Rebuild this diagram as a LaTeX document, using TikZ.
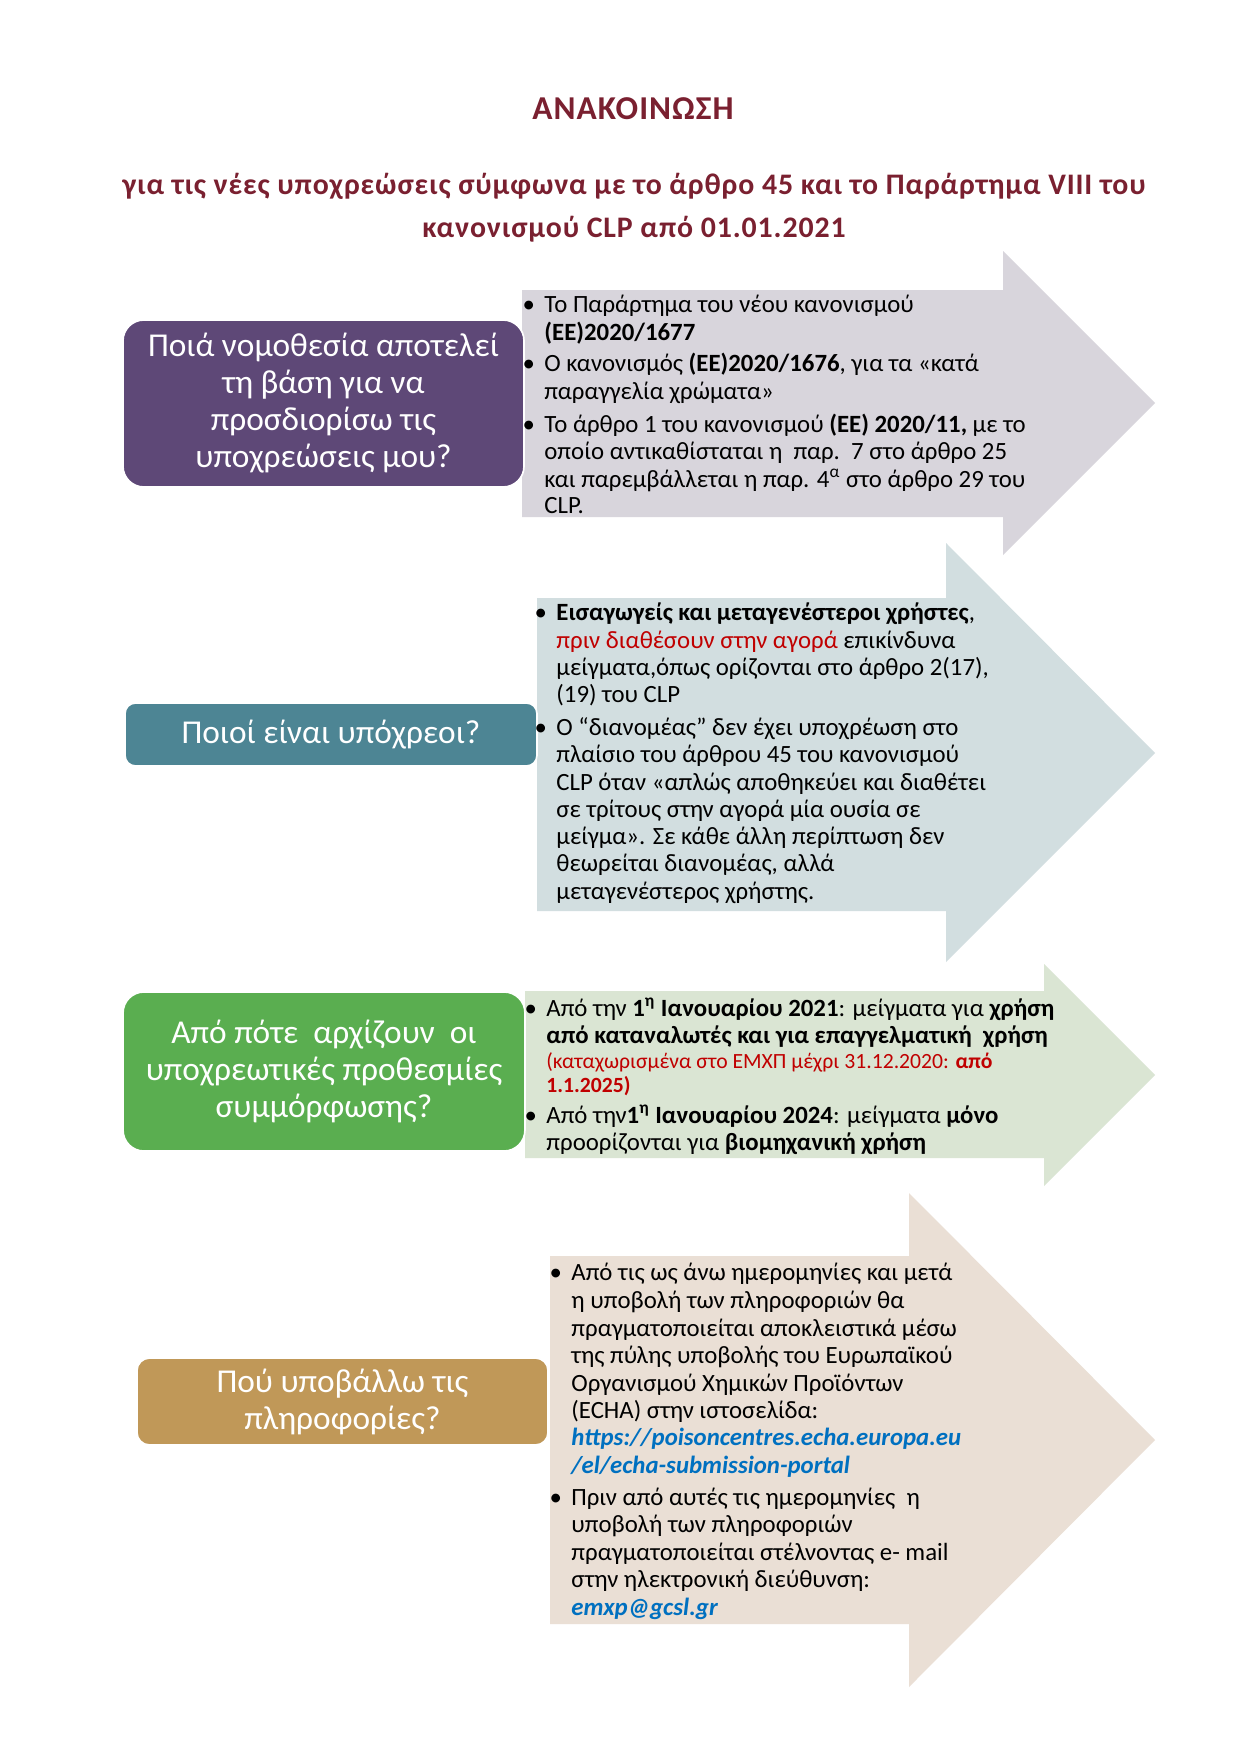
\documentclass[tikz,border=0pt]{standalone}
\usepackage{fontspec}
\setmainfont{Carlito}
\definecolor{titlered}{HTML}{7A2030}
\definecolor{qpurple}{HTML}{5E4877}
\definecolor{qteal}{HTML}{4D8594}
\definecolor{qgreen}{HTML}{5AAE50}
\definecolor{qgold}{HTML}{C09858}
\definecolor{afill1}{HTML}{D8D5DC}
\definecolor{afill2}{HTML}{D2DEE0}
\definecolor{afill3}{HTML}{DAE5D3}
\definecolor{afill4}{HTML}{EADFD5}
\definecolor{txtred}{HTML}{C00000}
\definecolor{linkblue}{HTML}{0070C0}
\newcommand\bodyf{\fontsize{11.9}{13.1}\selectfont}
\newcommand\smallredf{\fontsize{10.4}{11}\selectfont}
\newcommand\boxf{\fontsize{16}{17.75}\selectfont}
\newcommand\bul{\llap{•\hspace{4.5pt}}}
\tikzset{
  ln/.style={anchor=base west, inner sep=0pt, font=\bodyf, text=black},
  qbox/.style={rounded corners=10pt, draw=white, line width=0.8pt, text=white,
    align=center, font=\boxf, inner sep=0pt},
  ttl/.style={anchor=base, inner sep=0pt, text=titlered, font=\bfseries}
}
\begin{document}
\begin{tikzpicture}[x=0.4797pt,y=-0.4797pt]
\useasboundingbox[fill=white] (0,0) rectangle (1241,1754);

% title
\node[ttl, font=\fontsize{16}{19}\selectfont\bfseries\addfontfeature{LetterSpace=3}] (title) at (633,120) {ΑΝΑΚΟΙΝΩΣΗ};
\node[ttl, font=\fontsize{14.3}{17}\selectfont\bfseries\addfontfeature{LetterSpace=3}] (sub1) at (634,195) {για τις νέες υποχρεώσεις σύμφωνα με το άρθρο 45 και το Παράρτημα VIII του};
\node[ttl, font=\fontsize{14.3}{17}\selectfont\bfseries\addfontfeature{LetterSpace=3}] (sub2) at (634,237) {κανονισμού CLP από 01.01.2021};

% arrows
\fill[afill1] (522,290) -- (1003,290) -- (1003,251) -- (1155,403) -- (1003,555) -- (1003,517) -- (522,517) -- cycle;
\fill[afill2] (537,598) -- (946,598) -- (946,543) -- (1155,753) -- (946,962) -- (946,911) -- (537,911) -- cycle;
\fill[afill3] (525,991) -- (1044,991) -- (1044,964) -- (1155,1075) -- (1044,1186) -- (1044,1158) -- (525,1158) -- cycle;
\fill[afill4] (550,1256) -- (909,1256) -- (909,1193) -- (1155,1440) -- (909,1687) -- (909,1624) -- (550,1624) -- cycle;

% question boxes
\node[qbox, fill=qpurple, minimum width=192.4pt, minimum height=80.1pt] (q1) at (323.5,403.5)
  {Ποιά νομοθεσία αποτελεί\\τη βάση για να\\προσδιορίσω τις\\υποχρεώσεις μου?};
\node[qbox, fill=qteal, rounded corners=5pt, minimum width=197.6pt, minimum height=30.2pt] (q2) at (331,734.5)
  {Ποιοί είναι υπόχρεοι?};
\node[qbox, fill=qgreen, minimum width=192.8pt, minimum height=76.3pt] (q3) at (324,1071.5)
  {Από πότε\ \ αρχίζουν\ \ οι\\υποχρεωτικές προθεσμίες\\συμμόρφωσης?};
\node[qbox, fill=qgold, rounded corners=6pt, minimum width=197.2pt, minimum height=41.7pt] (q4) at (342.5,1401.5)
  {Πού υποβάλλω τις\\πληροφορίες?};

% arrow 1 text
\node[ln] (a1l1) at (544,312) {\bul Το Παράρτημα του νέου κανονισμού};
\node[ln] (a1l2) at (544,340) {\textbf{(ΕΕ)2020/1677}};
\node[ln] (a1l3) at (544,371) {\bul Ο κανονισμός \textbf{(ΕΕ)2020/1676}, για τα «κατά};
\node[ln] (a1l4) at (544,399) {παραγγελία χρώματα»};
\node[ln] (a1l5) at (544,432) {\bul Το άρθρο 1 του κανονισμού \textbf{(ΕΕ) 2020/11,} με το};
\node[ln] (a1l6) at (544,459) {οποίο αντικαθίσταται η\ \ παρ.\ \ 7 στο άρθρο 25};
\node[ln] (a1l7) at (544,487) {και παρεμβάλλεται η παρ. 4\textsuperscript{α} στο άρθρο 29 του};
\node[ln] (a1l8) at (544,513) {CLP.};

% arrow 2 text
\node[ln] (a2l1) at (556,620) {\bul\textbf{Εισαγωγείς και μεταγενέστεροι χρήστες},};
\node[ln] (a2l2) at (556,648) {\textcolor{txtred}{πριν διαθέσουν στην αγορά} επικίνδυνα};
\node[ln] (a2l3) at (556,675) {μείγματα,όπως ορίζονται στο άρθρο 2(17),};
\node[ln] (a2l4) at (556,702) {(19) του CLP};
\node[ln] (a2l5) at (556,735) {\bul Ο “διανομέας” δεν έχει υποχρέωση στο};
\node[ln] (a2l6) at (556,762) {πλαίσιο του άρθρου 45 του κανονισμού};
\node[ln] (a2l7) at (556,790) {CLP όταν «απλώς αποθηκεύει και διαθέτει};
\node[ln] (a2l8) at (556,817) {σε τρίτους στην αγορά μία ουσία σε};
\node[ln] (a2l9) at (556,844) {μείγμα». Σε κάθε άλλη περίπτωση δεν};
\node[ln] (a2l10) at (556,871) {θεωρείται διανομέας, αλλά};
\node[ln] (a2l11) at (556,899) {μεταγενέστερος χρήστης.};

% arrow 3 text
\node[ln] (a3l1) at (546,1016) {\bul Από την \textbf{1\textsuperscript{η} Ιανουαρίου 2021}: μείγματα για \textbf{χρήση}};
\node[ln] (a3l2) at (546,1043) {\textbf{από καταναλωτές και για επαγγελματική\ \ χρήση}};
\node[ln, font=\smallredf, text=txtred] (a3l3) at (546,1068) {(καταχωρισμένα στο ΕΜΧΠ μέχρι 31.12.2020: \textbf{από}};
\node[ln, font=\smallredf\bfseries, text=txtred] (a3l4) at (546,1092) {1.1.2025)};
\node[ln] (a3l5) at (546,1123) {\bul Από την\textbf{1\textsuperscript{η} Ιανουαρίου 2024}: μείγματα \textbf{μόνο}};
\node[ln] (a3l6) at (546,1150) {προορίζονται για \textbf{βιομηχανική χρήση}};

% arrow 4 text
\node[ln] (a4l1) at (571,1280) {\bul Από τις ως άνω ημερομηνίες και μετά};
\node[ln] (a4l2) at (571,1308) {η υποβολή των πληροφοριών θα};
\node[ln] (a4l3) at (571,1336) {πραγματοποιείται αποκλειστικά μέσω};
\node[ln] (a4l4) at (571,1363) {της πύλης υποβολής του Ευρωπαϊκού};
\node[ln] (a4l5) at (571,1391) {Οργανισμού Χημικών Προϊόντων};
\node[ln] (a4l6) at (571,1418) {(ECHA) στην ιστοσελίδα:};
\node[ln, text=linkblue, font=\bodyf\bfseries\itshape] (a4l7) at (571,1445) {https://poisoncentres.echa.europa.eu};
\node[ln, text=linkblue, font=\bodyf\bfseries\itshape] (a4l8) at (571,1473) {/el/echa-submission-portal};
\node[ln] (a4l9) at (571,1505) {\bul Πριν από αυτές τις ημερομηνίες\ \ η};
\node[ln] (a4l10) at (571,1532) {υποβολή των πληροφοριών};
\node[ln] (a4l11) at (571,1560) {πραγματοποιείται στέλνοντας e- mail};
\node[ln] (a4l12) at (571,1587) {στην ηλεκτρονική διεύθυνση:};
\node[ln, text=linkblue, font=\bodyf\bfseries\itshape] (a4l13) at (571,1615) {emxp@gcsl.gr};
\end{tikzpicture}
\end{document}
